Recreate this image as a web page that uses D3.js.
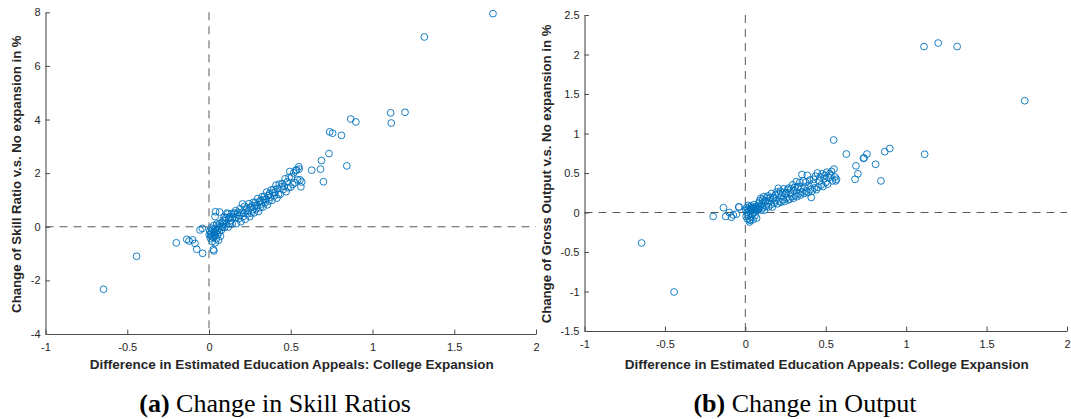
<!DOCTYPE html>
<html>
<head>
<meta charset="utf-8">
<script src="https://cdn.jsdelivr.net/npm/d3@7"></script>
<style>
  html, body { margin: 0; padding: 0; background: #ffffff; }
  svg { display: block; }
</style>
</head>
<body>
<svg id="chart" width="1071" height="419"></svg>
<script>
// ---- Data (shared x: difference in estimated education appeals) ----
const xDiff = [
  -0.645, -0.443, -0.200, -0.136, -0.122, -0.100, -0.086, -0.075, -0.039, -0.055, -0.041, 0.030, 0.037, 0.040, 0.065, 0.026,
  0.002, 0.005, 0.008, 0.010, 0.012, 0.015, 0.018, 0.020, 0.022, 0.025, 0.028, 0.030, 0.033, 0.035, 0.038,
  0.040, 0.043, 0.045, 0.048, 0.050, 0.053, 0.055, 0.058, 0.060, 0.063, 0.066, 0.070, 0.073, 0.076, 0.080,
  0.083, 0.086, 0.090, 0.093, 0.096, 0.100, 0.104, 0.107, 0.110, 0.114, 0.118, 0.121, 0.125, 0.129, 0.133,
  0.137, 0.141, 0.145, 0.150, 0.155, 0.159, 0.163, 0.168, 0.172, 0.177, 0.181, 0.186, 0.190, 0.195, 0.200,
  0.205, 0.208, 0.213, 0.217, 0.222, 0.226, 0.231, 0.235, 0.240, 0.244, 0.249, 0.253, 0.258, 0.262, 0.267,
  0.271, 0.276, 0.280, 0.285, 0.289, 0.294, 0.298, 0.303, 0.307, 0.312, 0.316, 0.321, 0.325, 0.330, 0.334,
  0.339, 0.343, 0.348, 0.352, 0.357, 0.361, 0.366, 0.370, 0.375, 0.380, 0.385, 0.390, 0.395, 0.400, 0.405,
  0.410, 0.415, 0.420, 0.425, 0.430, 0.436, 0.442, 0.448, 0.454, 0.460, 0.466, 0.472, 0.478, 0.484, 0.490,
  0.494, 0.500, 0.506, 0.512, 0.518, 0.524, 0.530, 0.536, 0.542, 0.549, 0.551, 0.557, 0.562, 0.567,
  0.628, 0.688, 0.682, 0.700, 0.734, 0.738, 0.756, 0.810, 0.843, 0.867, 0.898,
  1.111, 1.115, 1.199, 1.317, 1.737
];

const skillChange = [
  -2.33, -1.10, -0.60, -0.47, -0.53, -0.49, -0.62, -0.84, -0.99, -0.12, -0.06, -0.90, 0.38, 0.56, 0.55, -0.85,
  -0.30, -0.15, -0.42, -0.25, -0.05, -0.35, -0.20, -0.55, -0.10, -0.28, -0.40, 0.05, -0.18, -0.32, -0.60,
  -0.08, -0.22, -0.45, 0.10, -0.15, -0.30, 0.02, -0.50, -0.05, -0.20, 0.12, -0.35, 0.00, -0.12, 0.15,
  -0.02, 0.24, 0.10, 0.36, -0.02, 0.24, 0.35, 0.11, 0.51, 0.48, -0.01, 0.33, 0.11, 0.37, 0.23,
  0.49, 0.10, 0.36, 0.47, 0.51, 0.34, 0.60, 0.12, 0.46, 0.54, 0.30, 0.41, 0.67, 0.19, 0.53,
  0.85, 0.38, 0.50, 0.76, 0.28, 0.62, 0.71, 0.48, 0.59, 0.86, 0.38, 0.72, 0.51, 0.77, 0.64,
  0.91, 0.52, 0.79, 0.91, 0.67, 0.79, 1.05, 0.57, 0.92, 0.71, 0.98, 0.85, 1.12, 0.74, 1.01,
  1.13, 0.90, 1.02, 1.29, 0.82, 1.16, 0.96, 1.23, 1.10, 1.37, 0.99, 1.27, 1.39, 1.16, 1.28,
  1.55, 1.07, 1.42, 1.21, 1.59, 1.21, 1.49, 1.61, 1.39, 1.51, 1.79, 1.31, 1.67, 1.46, 1.84,
  2.06, 1.48, 1.86, 1.58, 2.01, 1.64, 2.10, 2.12, 1.75, 2.24, 2.15, 1.75, 1.49, 1.67,
  2.11, 2.47, 2.15, 1.68, 2.73, 3.54, 3.49, 3.41, 2.27, 4.02, 3.91,
  4.25, 3.87, 4.27, 7.08, 7.95
];

const outputChange = [
  -0.386, -1.006, -0.05, 0.06, -0.05, 0.00, -0.06, -0.03, 0.07, -0.02, 0.07, -0.09, 0.03, 0.05, 0.04, -0.12,
  0.03, -0.05, 0.06, 0.00, -0.08, 0.04, 0.09, -0.03, 0.02, 0.07, -0.10, 0.01, 0.05, -0.06, 0.08,
  0.03, -0.02, 0.06, -0.09, 0.04, 0.10, 0.00, 0.05, -0.04, 0.07, 0.02, -0.07, 0.06, 0.03, 0.08,
  0.12, 0.05, 0.15, 0.07, 0.18, 0.03, 0.11, 0.16, 0.06, 0.20, 0.03, 0.14, 0.15, 0.08, 0.19,
  0.11, 0.21, 0.07, 0.15, 0.19, 0.10, 0.24, 0.07, 0.18, 0.19, 0.12, 0.22, 0.15, 0.26, 0.11,
  0.306, 0.24, 0.14, 0.27, 0.13, 0.21, 0.25, 0.16, 0.30, 0.14, 0.24, 0.25, 0.19, 0.29, 0.16,
  0.31, 0.17, 0.25, 0.30, 0.20, 0.35, 0.18, 0.28, 0.32, 0.22, 0.39, 0.20, 0.32, 0.33, 0.24,
  0.38, 0.22, 0.30, 0.48, 0.26, 0.40, 0.24, 0.32, 0.38, 0.27, 0.47, 0.25, 0.34, 0.41, 0.29,
  0.19, 0.27, 0.37, 0.42, 0.31, 0.46, 0.29, 0.50, 0.32, 0.40, 0.45, 0.35, 0.49, 0.33, 0.43,
  0.47, 0.38, 0.51, 0.36, 0.44, 0.49, 0.47, 0.52, 0.40, 0.918, 0.55, 0.45, 0.40, 0.42,
  0.74, 0.59, 0.42, 0.49, 0.686, 0.69, 0.74, 0.61, 0.40, 0.77, 0.81,
  2.10, 0.737, 2.145, 2.10, 1.415
];

const xTicks = [-1, -0.5, 0, 0.5, 1, 1.5, 2];
const xTickLabels = ["-1", "-0.5", "0", "0.5", "1", "1.5", "2"];
const skillTicks = [-4, -2, 0, 2, 4, 6, 8];
const skillTickLabels = ["-4", "-2", "0", "2", "4", "6", "8"];
const outputTicks = [-1.5, -1, -0.5, 0, 0.5, 1, 1.5, 2, 2.5];
const outputTickLabels = ["-1.5", "-1", "-0.5", "0", "0.5", "1", "1.5", "2", "2.5"];

const xTitle = "Difference in Estimated Education Appeals: College Expansion";
const panels = [
  {
    ys: skillChange, yTicks: skillTicks, yLabels: skillTickLabels, yDomain: [-4, 8],
    yTitle: "Change of Skill Ratio v.s. No expansion in %",
    capTag: "(a)", capText: " Change in Skill Ratios",
    left: 45.5, right: 536, top: 12.3, bottom: 334, yTitleX: 21, capX: 275
  },
  {
    ys: outputChange, yTicks: outputTicks, yLabels: outputTickLabels, yDomain: [-1.5, 2.5],
    yTitle: "Change of Gross Output v.s. No expansion in %",
    capTag: "(b)", capText: " Change in Output",
    left: 584.5, right: 1067, top: 15, bottom: 331, yTitleX: 551, capX: 805
  }
];

const svg = d3.select("#chart");
const blue = "#0072BD";
const axisColor = "#4d4d4d";
const textColor = "#262626";
const sans = "'Liberation Sans', Arial, Helvetica, sans-serif";

panels.forEach(p => {
  const x = d3.scaleLinear().domain([-1, 2]).range([p.left, p.right]);
  const y = d3.scaleLinear().domain(p.yDomain).range([p.bottom, p.top]);
  const g = svg.append("g");

  // dashed zero lines
  g.append("line")
    .attr("x1", x(0)).attr("x2", x(0))
    .attr("y1", y(p.yDomain[1])).attr("y2", y(p.yDomain[0]))
    .attr("stroke", "#5a5a5a").attr("stroke-width", 1)
    .attr("stroke-dasharray", "8,6");
  g.append("line")
    .attr("x1", x(-1)).attr("x2", x(2))
    .attr("y1", y(0)).attr("y2", y(0))
    .attr("stroke", "#5a5a5a").attr("stroke-width", 1)
    .attr("stroke-dasharray", "8,6");

  // axes
  const xAxis = d3.axisBottom(x).tickValues(xTicks)
    .tickFormat((d, i) => xTickLabels[i])
    .tickSizeInner(-4.5).tickSizeOuter(0).tickPadding(9);
  const yAxis = d3.axisLeft(y).tickValues(p.yTicks)
    .tickFormat((d, i) => p.yLabels[i])
    .tickSizeInner(-4.5).tickSizeOuter(0).tickPadding(5);

  const gx = g.append("g").attr("transform", `translate(0,${p.bottom})`).call(xAxis);
  const gy = g.append("g").attr("transform", `translate(${p.left},0)`).call(yAxis);
  [gx, gy].forEach(a => {
    a.select(".domain").attr("stroke", axisColor).attr("stroke-width", 1.1);
    a.selectAll(".tick line").attr("stroke", axisColor).attr("stroke-width", 1);
    a.selectAll(".tick text").attr("fill", textColor)
      .style("font-family", sans).style("font-size", "11px");
  });

  // markers
  g.append("g").selectAll("circle")
    .data(xDiff.map((d, i) => [d, p.ys[i]]))
    .join("circle")
    .attr("cx", d => x(d[0]))
    .attr("cy", d => y(d[1]))
    .attr("r", 3.4)
    .attr("fill", "none")
    .attr("stroke", blue)
    .attr("stroke-width", 0.9);

  // axis titles
  g.append("text")
    .attr("x", (p.left + p.right) / 2 + 1).attr("y", 369)
    .attr("text-anchor", "middle")
    .attr("fill", textColor)
    .style("font-family", sans).style("font-size", "13.5px").style("font-weight", "bold")
    .text(xTitle);
  g.append("text")
    .attr("transform", `translate(${p.yTitleX},${(p.top + p.bottom) / 2 + 1}) rotate(-90)`)
    .attr("text-anchor", "middle")
    .attr("fill", textColor)
    .style("font-family", sans).style("font-size", "13.2px").style("font-weight", "bold")
    .text(p.yTitle);

  // caption
  const cap = g.append("text")
    .attr("x", p.capX).attr("y", 411.5)
    .attr("text-anchor", "middle")
    .attr("fill", "#000")
    .style("font-family", "'Liberation Serif', 'Times New Roman', serif")
    .style("font-size", "26px");
  cap.append("tspan").style("font-weight", "bold").text(p.capTag);
  cap.append("tspan").text(p.capText);
});
</script>
</body>
</html>
